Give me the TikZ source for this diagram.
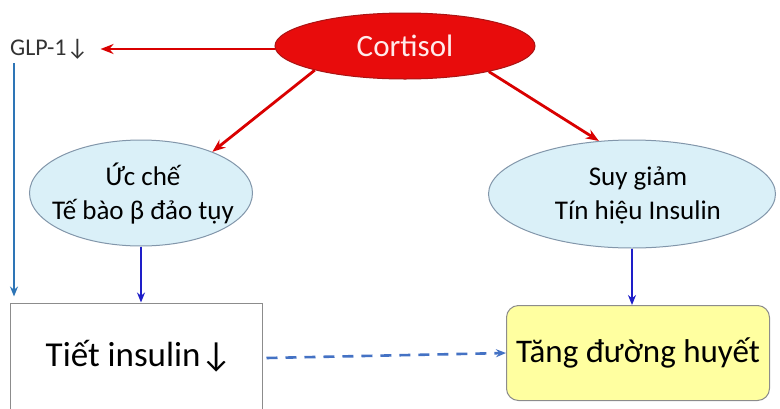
\documentclass[tikz,border=0pt]{standalone}
\usepackage{fontspec}
\setmainfont{Carlito}
\usetikzlibrary{shapes.geometric,arrows.meta}
\definecolor{cortred}{RGB}{232,12,12}
\definecolor{cortedge}{RGB}{170,20,20}
\definecolor{pale}{RGB}{218,240,248}
\definecolor{paleedge}{RGB}{130,150,170}
\definecolor{lemon}{RGB}{255,255,160}
\definecolor{navy}{RGB}{30,30,200}
\definecolor{steel}{RGB}{46,117,182}
\definecolor{dashblue}{RGB}{68,114,196}
\begin{document}
\begin{tikzpicture}[x=1pt,y=-1pt,>={Stealth[length=13pt,width=10pt]},
  redarr/.style={->,draw=red!85!black,line width=2.8pt},
  bluearr/.style={->,draw=navy,line width=2pt,>={Stealth[length=10pt,width=8pt]}},
  bubble/.style={ellipse,draw=paleedge,fill=pale,line width=1pt},
  bubtext/.style={align=center,font=\fontsize{27}{34}\selectfont,inner sep=0pt},
  bigtext/.style={font=\fontsize{33}{38}\selectfont,inner sep=2pt}]
\useasboundingbox (0,0) rectangle (780,408);
\node[ellipse,draw=cortedge,fill=cortred,line width=1pt,minimum width=260pt,minimum height=66pt,
  text=red!8,font=\fontsize{31}{36}\selectfont,inner sep=0pt] (cort) at (405,46) {Cortisol};
\node[anchor=west,font=\fontsize{24}{28}\selectfont,text=black!80,inner sep=0pt] (glp) at (10,49) {GLP-1↓};
\node[bubble,minimum width=223pt,minimum height=106pt] (inhib) at (141,193) {};
\node[bubtext] (inhibtxt) at (143,194) {Ức chế\\Tế bào β đảo tụy};
\node[bubble,minimum width=287pt,minimum height=108pt] (signal) at (632,194) {};
\node[bubtext] (signaltxt) at (638,195) {Suy giảm\\Tín hiệu Insulin};
\node[draw=black!45,fill=white,line width=1pt,minimum width=252pt,minimum height=110pt] (secr) at (136,358) {};
\node[font=\fontsize{35}{40}\selectfont,inner sep=2pt] (secrtxt) at (139,356) {Tiết insulin↓};
\node[draw=black!45,fill=lemon,line width=1pt,rounded corners=12pt,minimum width=263pt,minimum height=95pt,
  bigtext] (sugar) at (638,353) {Tăng đường huyết};
% arrows
\draw[redarr] (cort.west |- glp) -- ([xshift=12pt]glp.east);
\draw[redarr] (cort.195) -- (inhib.30);
\draw[redarr] (cort.-17) -- (signal.122);
\draw[bluearr] (inhib.south) -- (inhib.south |- secr.north);
\draw[bluearr] (signal.south) -- (signal.south |- sugar.north);
\draw[->,draw=steel,line width=2.2pt,>={Stealth[length=10pt,width=8pt]}] ([xshift=4pt,yshift=-4pt]glp.south west) -- ([xshift=4pt,yshift=6pt]glp.west |- secr.north);
\draw[->,draw=dashblue,line width=2.6pt,dash pattern=on 11pt off 8pt,>={Stealth[length=10pt,width=8pt]}] ([xshift=4pt]secr.east) -- (sugar.west);
\end{tikzpicture}
\end{document}
